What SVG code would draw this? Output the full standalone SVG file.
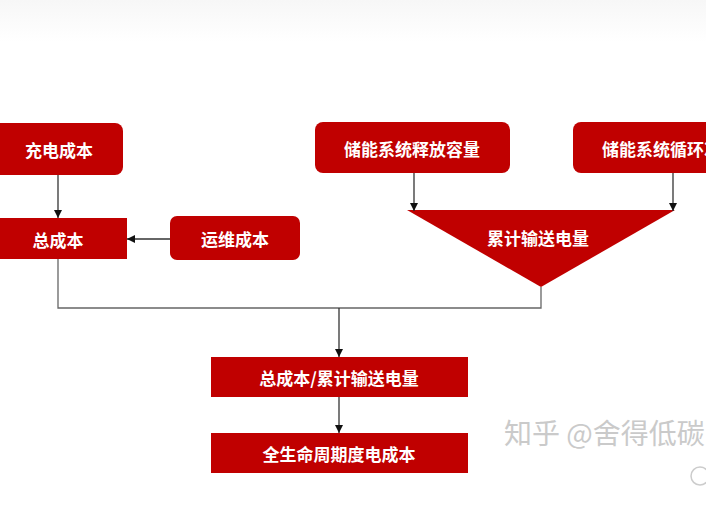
<svg xmlns="http://www.w3.org/2000/svg" width="706" height="529" viewBox="0 0 706 529">
<defs>
<linearGradient id="top" x1="0" y1="0" x2="0" y2="1">
<stop offset="0" stop-color="#f7f7f7"/><stop offset="1" stop-color="#ffffff"/>
</linearGradient>
<marker id="ah" viewBox="0 0 10 10" refX="10" refY="5" markerWidth="8" markerHeight="8" markerUnits="userSpaceOnUse" orient="auto">
<path d="M0,0 L10,5 L0,10 z" fill="#111"/>
</marker>
<style>
.n{fill:#c00000}
.t{fill:#fff;font-family:"Noto Sans CJK SC","Noto Sans",sans-serif;font-weight:bold;font-size:17px;text-anchor:middle;dominant-baseline:central}
.c{fill:none;stroke:#666;stroke-width:1.3}
.a{fill:none;stroke:#333;stroke-width:1.3;marker-end:url(#ah)}
.w{fill:#cacaca;font-family:"Noto Sans CJK SC",sans-serif;font-size:28px}
</style>
</defs>
<rect width="706" height="529" fill="#fff"/>
<rect width="706" height="42" fill="url(#top)"/>
<g id="charge"><rect class="n" x="-10" y="123" width="133" height="52" rx="8"/><text class="t" x="59" y="149">充电成本</text></g>
<g id="total"><rect class="n" x="-10" y="218" width="137" height="41"/><text class="t" x="58" y="239">总成本</text></g>
<g id="om"><rect class="n" x="170" y="216" width="130" height="44" rx="7"/><text class="t" x="235" y="238">运维成本</text></g>
<g id="release"><rect class="n" x="315" y="122" width="195" height="51" rx="8"/><text class="t" x="412" y="148">储能系统释放容量</text></g>
<g id="cycle"><rect class="n" x="573" y="122" width="150" height="51" rx="8"/><text class="t" x="602" y="148" style="text-anchor:start">储能系统循环次数</text></g>
<g id="delivered"><path class="n" d="M407,210 L675,210 L541,287 z"/><text class="t" x="538" y="237">累计输送电量</text></g>
<g id="ratio"><rect class="n" x="211" y="357" width="257" height="40"/><text class="t" x="339" y="377">总成本/累计输送电量</text></g>
<g id="lcoe"><rect class="n" x="211" y="433" width="257" height="40"/><text class="t" x="339" y="453">全生命周期度电成本</text></g>
<g id="connectors">
<path class="a" d="M58,175 L58,218"/>
<path class="a" d="M170,239 L127,239"/>
<path class="a" d="M414,173 L414,211"/>
<path class="a" d="M673,173 L673,211"/>
<path class="c" d="M58,259 L58,308 L541,308 L541,287"/>
<path class="a" d="M339,308 L339,357"/>
<path class="a" d="M339,397 L339,433"/>
</g>
<text class="w" x="504" y="444">知乎 @舍得低碳</text>
<circle cx="700" cy="476" r="9" fill="none" stroke="#ccc" stroke-width="1.5"/>
</svg>
